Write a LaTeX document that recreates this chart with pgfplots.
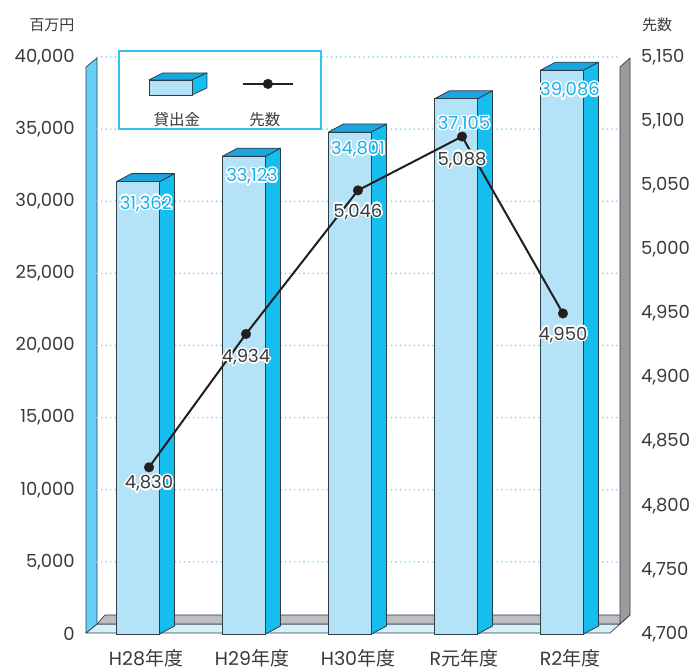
\documentclass[border=0pt]{standalone}
\usepackage{fontspec}
\setmainfont{Poppins}
\newfontfamily\jp{Noto Sans CJK JP}
\usepackage{pgfplots}
\pgfplotsset{compat=1.18}
\usepackage{pgfplotstable}
\usepackage{contour}
\contourlength{1.4pt}
\contournumber{24}

\definecolor{frontcol}{HTML}{B4E3F7}
\definecolor{sidecol}{HTML}{16BEF0}
\definecolor{topcol}{HTML}{1BA6DF}
\definecolor{edgecol}{HTML}{2E3E46}
\definecolor{wallblue}{HTML}{6ACFF5}
\definecolor{wallgray}{HTML}{9B9B9F}
\definecolor{stripgray}{HTML}{BEBEC2}
\definecolor{floorcol}{HTML}{D6EFF9}
\definecolor{gridcol}{HTML}{80D4F4}
\definecolor{legcol}{HTML}{35C2EE}
\definecolor{barlab}{HTML}{1AB2E8}
\definecolor{tickcol}{HTML}{3A3A3A}
\definecolor{linecol}{HTML}{231F20}

\newcommand\numfont{\fontsize{18}{18}\selectfont}
\newcommand\catfont{\fontsize{19}{19}\selectfont}

\pgfkeys{/pgf/number format/1000 sep={,}, /pgf/number format/assume math mode=true}

\pgfplotstableread{
x v dy
0 31362 -23
1 33123 -21
2 34801 -18
3 37105 -26
4 39086 -21
}\bardata

\pgfplotstableread{
x w dy
0.104 4830 -17
1.019 4934 -24
2.075 5046 -22
3.057 5088 -24
4.009 4950 -22
}\linedata

\begin{document}
\begin{tikzpicture}
\useasboundingbox (0,0) rectangle (697pt,670pt);
% walls and floor (decoration), pixel coordinates
\begin{scope}[x=1pt,y=-1pt,shift={(0pt,670pt)}, draw=edgecol, line width=0.7pt, line join=round]
  \filldraw[fill=floorcol] (86,633) -- (97,624) -- (620,624) -- (610,633) -- cycle;
  \filldraw[fill=stripgray] (97,624) -- (105,615) -- (630,615) -- (620,624) -- cycle;
  \filldraw[fill=wallblue] (86,633) -- (86,67) -- (97,58) -- (97,624) -- cycle;
  \filldraw[fill=wallgray] (620,624) -- (620,67) -- (630,58) -- (630,615) -- cycle;
\end{scope}

\begin{axis}[
  at={(97pt,36pt)}, anchor=south west, scale only axis,
  width=524pt, height=577pt,
  xmin=-0.3868, xmax=4.5566, ymin=0, ymax=40000,
  axis x line*=bottom, axis y line*=left,
  axis line style={draw=none}, major tick style={draw=none},
  xtick={0,1,2,3,4},
  xticklabels={{H28\jp 年度},{H29\jp 年度},{H30\jp 年度},{R\jp 元年度},{R2\jp 年度}},
  ytick={0,5000,10000,15000,20000,25000,30000,35000,40000},
  scaled y ticks=false,
  xticklabel style={anchor=center, inner sep=0pt, yshift=-24pt, xshift=8pt, font=\catfont, text=tickcol},
  yticklabel style={anchor=east, inner sep=0pt, xshift=-22pt, font=\numfont, text=tickcol},
  /pgf/number format/1000 sep={,},
  /pgf/number format/assume math mode=true,
  clip=false,
]
% dotted grid
\pgfplotsinvokeforeach{5000,10000,15000,20000,25000,30000,35000,40000}{
  \draw[gridcol, line width=1.8pt, line cap=round, dash pattern=on 0pt off 4.6pt]
    (axis cs:-0.3868,#1) -- (axis cs:4.5566,#1);
}
% side and top faces of the bars, from the table values
\pgfplotsinvokeforeach{0,1,2,3,4}{
  \pgfplotstablegetelem{#1}{v}\of\bardata
  \edef\barv{\pgfplotsretval}
  \edef\tmp{\noexpand\addplot[fill=sidecol, draw=edgecol, line width=0.8pt, line join=round, forget plot]
    coordinates {(\fpeval{#1+0.2028},0) (\fpeval{#1+0.3443},554.6) (\fpeval{#1+0.3443},\fpeval{\barv+554.6}) (\fpeval{#1+0.2028},\barv)} -- cycle;}
  \tmp
  \edef\tmp{\noexpand\addplot[fill=topcol, draw=edgecol, line width=0.8pt, line join=round, forget plot]
    coordinates {(\fpeval{#1-0.2028},\barv) (\fpeval{#1+0.2028},\barv) (\fpeval{#1+0.3443},\fpeval{\barv+554.6}) (\fpeval{#1-0.0613},\fpeval{\barv+554.6})} -- cycle;}
  \tmp
}
% front faces
\addplot[ybar, bar width=0.4057, bar shift=0pt, fill=frontcol, draw=edgecol, line width=0.8pt, forget plot,
  point meta=y,
  visualization depends on={\thisrow{dy} \as \labdy},
  nodes near coords={\contour{white}{\pgfmathprintnumber{\pgfplotspointmeta}}},
  every node near coord/.append style={anchor=center, inner sep=0pt, xshift=8pt, yshift=\labdy pt, font=\numfont, text=barlab},
] table[x=x, y=v] {\bardata};
\end{axis}

\begin{axis}[
  at={(97pt,36pt)}, anchor=south west, scale only axis,
  width=524pt, height=577pt,
  xmin=-0.3868, xmax=4.5566, ymin=4700, ymax=5150,
  hide x axis, axis y line*=right,
  axis line style={draw=none}, major tick style={draw=none},
  ytick={4700,4750,4800,4850,4900,4950,5000,5050,5100,5150},
  scaled y ticks=false,
  yticklabel style={anchor=west, inner sep=0pt, xshift=20pt, font=\numfont, text=tickcol},
  /pgf/number format/1000 sep={,},
  /pgf/number format/assume math mode=true,
  clip=false,
  legend columns=2,
  legend style={at={(0.0401,1.0121)}, anchor=north west, draw=legcol, line width=1.8pt, fill=white,
    inner sep=0pt, column sep=0pt, row sep=0pt, nodes={inner sep=0pt, draw=none, fill=none}},
]
\addplot[linecol, line width=2pt, mark=*, mark size=4.8pt, mark options={solid, fill=linecol, line width=0.4pt}, forget plot,
  point meta=y,
  visualization depends on={\thisrow{dy} \as \labdy},
  nodes near coords={\contour{white}{\pgfmathprintnumber{\pgfplotspointmeta}}},
  every node near coord/.append style={anchor=center, inner sep=0pt, yshift=\labdy pt, font=\numfont, text=tickcol},
] table[x=x, y=w] {\linedata};

\addlegendimage{legend image code/.code={
  \path[draw=none] (0pt,-39pt) rectangle (100pt,39pt);
  \filldraw[fill=topcol, draw=edgecol, line width=0.8pt, line join=round] (30pt,10pt) -- (44pt,17pt) -- (88pt,17pt) -- (73pt,10pt) -- cycle;
  \filldraw[fill=sidecol, draw=edgecol, line width=0.8pt, line join=round] (73pt,10pt) -- (88pt,17pt) -- (88pt,2pt) -- (73pt,-5pt) -- cycle;
  \filldraw[fill=frontcol, draw=edgecol, line width=0.8pt] (30pt,-5pt) rectangle (73pt,10pt);
  \node[inner sep=0pt, draw=none, font=\jp\fontsize{15.5}{15.5}\selectfont, text=tickcol] at (58pt,-30pt) {貸出金};
}}
\addlegendentry{\kern0pt}
\addlegendimage{legend image code/.code={
  \path[draw=none] (0pt,-39pt) rectangle (100pt,39pt);
  \draw[linecol, line width=2pt, mark=*, mark repeat=2, mark phase=2, mark size=4.8pt, mark options={solid, fill=linecol, line width=0.4pt}]
    plot coordinates {(23pt,6pt) (48pt,6pt) (73pt,6pt)};
  \node[inner sep=0pt, draw=none, font=\jp\fontsize{15.5}{15.5}\selectfont, text=tickcol] at (45pt,-30pt) {先数};
}}
\addlegendentry{\kern0pt}
\end{axis}

\begin{scope}[x=1pt,y=-1pt,shift={(0pt,670pt)}]
  \node[inner sep=0pt, font=\jp\fontsize{15}{15}\selectfont, text=tickcol] at (52,25) {百万円};
  \node[inner sep=0pt, font=\jp\fontsize{15}{15}\selectfont, text=tickcol] at (657,25) {先数};
\end{scope}
\end{tikzpicture}
\end{document}
